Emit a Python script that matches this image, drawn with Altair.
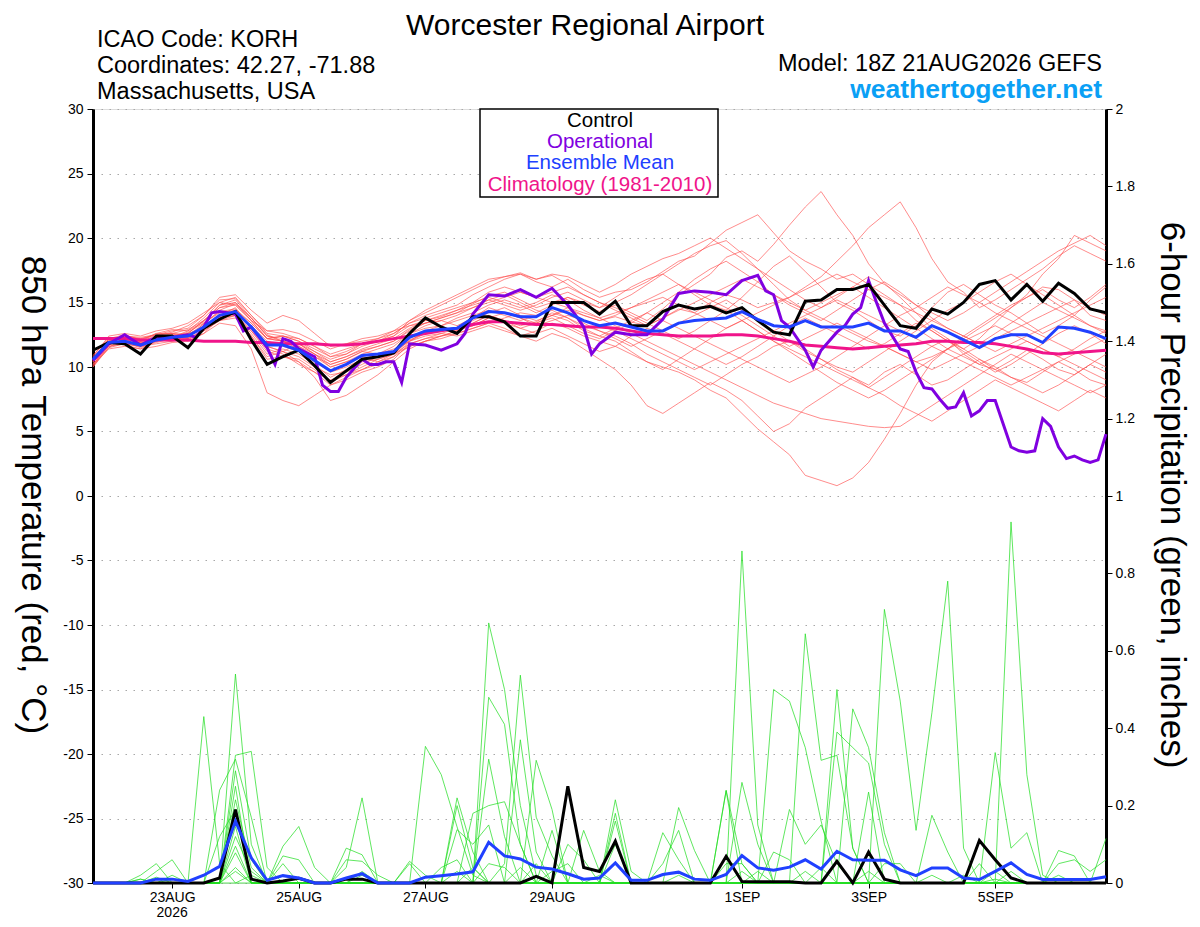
import altair as alt
import pandas as pd

FONT = "Liberation Sans"

# ---------------- data (6-hourly steps from 18Z 21AUG2026) ----------------
N_STEPS = 65

CONTROL_T = [11.3, 11.9, 11.8, 11.0, 12.4, 12.4, 11.5, 13.0, 13.7, 14.3, 12.1,
             10.2, 10.8, 11.3, 10.1, 8.8, 9.7, 10.6, 10.8, 11.1, 12.6,
             13.8, 13.1, 12.6, 13.9, 13.9, 13.5, 12.4, 12.4, 15.0, 15.0, 15.0, 14.1,
             15.1, 13.2, 13.2, 14.3, 14.8, 14.5, 14.7, 14.2, 14.6, 13.6, 12.7, 12.5,
             15.1, 15.2, 16.0, 16.0, 16.4, 14.8, 13.2, 13.0, 14.5, 14.1,
             15.0, 16.4, 16.7, 15.2, 16.4, 15.1, 16.5, 15.7, 14.5, 14.2]

MEAN_T = [10.6, 11.9, 12.0, 11.7, 12.1, 12.3, 12.4, 13.1, 14.0, 14.3, 13.1,
          11.7, 11.7, 11.3, 10.5, 9.7, 10.2, 10.9, 11.0, 11.2, 12.3,
          12.8, 12.9, 13.0, 13.8, 14.3, 14.2, 13.9, 13.9, 14.6, 14.2, 13.6, 13.2,
          13.4, 13.1, 12.8, 12.8, 13.4, 13.6, 13.7, 13.8, 14.3, 13.7, 13.2, 13.1,
          13.6, 13.1, 13.1, 13.1, 13.4, 12.8, 12.8, 12.3, 13.2, 12.7,
          12.1, 11.5, 12.2, 12.5, 12.5, 11.9, 13.1, 13.0, 12.7, 12.2]

CLIMO_T = [12.2, 12.2, 12.2, 12.1, 12.1, 12.1, 12.1, 12.0, 12.0, 12.0, 11.9,
           11.9, 11.8, 11.8, 11.8, 11.7, 11.7, 11.8, 12.0, 12.2, 12.4,
           12.6, 12.8, 13.0, 13.3, 13.5, 13.5, 13.4, 13.3, 13.3, 13.2, 13.1, 13.1,
           13.0, 12.8, 12.6, 12.5, 12.4, 12.4, 12.4, 12.5, 12.5, 12.4, 12.2, 12.0,
           11.7, 11.6, 11.5, 11.4, 11.5, 11.6, 11.7, 11.8, 12.0, 12.0,
           11.9, 11.9, 11.8, 11.6, 11.4, 11.1, 11.0, 11.1, 11.2, 11.3]

# operational run (some 3-hourly points, step unit = 6 h)
OPER_STEP = [0, 1, 2, 3, 4, 5, 6, 6.5, 7, 7.5, 8, 9, 9.5, 10, 11, 11.5, 12, 12.5, 13, 14,
             14.5, 15, 15.5, 16, 17, 17.5, 18, 18.5, 19, 19.5, 20, 21, 22, 23, 23.5, 24,
             25, 26, 27, 28, 29, 30, 30.5, 31, 31.5, 32, 33, 34, 35, 36, 37, 38, 39, 40,
             41, 42, 42.5, 43, 43.5, 44, 45, 45.5, 46, 47, 47.5, 48, 48.5, 49, 49.5, 50,
             51, 51.5, 52, 52.5, 53, 53.5, 54, 54.5, 55, 55.5, 56, 56.5, 57, 58, 58.5, 59,
             59.5, 60, 60.5, 61, 61.5, 62, 62.5, 63, 63.5, 64]
OPER_T = [10.5, 11.8, 12.5, 11.7, 12.3, 12.3, 12.5, 12.3, 13.1, 14.2, 14.3, 14.1, 12.8, 13.1, 11.5, 10.2, 12.2, 12.0, 11.4, 10.8,
          8.6, 8.1, 8.1, 9.2, 10.6, 10.2, 10.2, 10.4, 10.4, 8.8, 11.8, 11.7, 11.3, 11.8, 12.6, 14.1,
          15.6, 15.5, 16.0, 15.4, 16.1, 14.8, 14.0, 13.1, 11.0, 11.8, 12.7, 12.5, 12.5, 13.7, 15.7, 15.9, 15.8, 15.6,
          16.7, 17.1, 15.9, 15.6, 13.6, 13.1, 11.3, 10.0, 11.3, 12.7, 13.2, 14.1, 14.6, 16.7, 15.0, 13.4,
          11.4, 11.2, 9.6, 8.4, 8.3, 7.5, 6.8, 6.9, 8.0, 6.2, 6.6, 7.4, 7.4, 3.8, 3.5, 3.4,
          3.5, 6.0, 5.4, 3.8, 2.9, 3.1, 2.8, 2.6, 2.8, 4.8]

# ensemble members, 850 hPa temperature
T_P01 = [10.1, 11.5, 12.3, 12.0, 12.6, 12.9, 12.8, 13.5, 14.8, 15.2, 13.8,
         12.5, 12.0, 11.6, 11.0, 10.4, 10.8, 11.3, 11.6, 12.0, 12.9,
         13.4, 13.8, 14.2, 14.9, 15.5, 15.8, 15.2, 14.6, 15.0, 15.4, 14.8, 14.3,
         14.8, 14.2, 13.6, 14.5, 15.6, 16.4, 17.2, 18.5, 19.0, 18.2, 19.5, 21.0,
         22.4, 23.6, 21.8, 20.2, 18.0, 16.5, 15.4, 14.2, 13.0, 12.2,
         11.0, 10.2, 9.8, 10.5, 11.3, 10.6, 9.8, 9.4, 10.2, 9.6]
T_P02 = [10.4, 11.9, 11.7, 11.4, 12.0, 12.2, 12.6, 13.0, 13.8, 14.0, 12.6,
         11.0, 11.4, 11.0, 10.2, 9.2, 9.8, 10.4, 10.6, 11.0, 12.1,
         12.6, 13.0, 12.8, 13.4, 14.0, 13.6, 13.2, 13.5, 14.2, 13.8, 13.0, 12.4,
         12.0, 11.2, 10.4, 10.0, 9.6, 9.0, 8.2, 7.6, 6.4, 5.2, 4.2, 3.2,
         1.6, 1.2, 0.8, 1.4, 2.6, 4.4, 6.4, 8.6, 10.4, 11.4,
         12.4, 13.2, 14.0, 14.8, 15.4, 16.2, 16.0, 15.2, 14.0, 13.6]
T_P03 = [10.6, 12.2, 12.1, 11.9, 12.1, 12.5, 12.2, 13.4, 14.3, 14.5, 13.4,
         12.2, 12.4, 12.0, 11.2, 10.6, 11.0, 11.8, 12.0, 12.4, 13.2,
         13.6, 13.9, 14.4, 14.8, 15.2, 15.6, 15.0, 14.4, 14.0, 14.6, 14.0, 13.6,
         13.9, 13.5, 13.2, 13.8, 14.5, 14.2, 15.0, 15.6, 15.2, 14.6, 15.0, 15.4,
         16.2, 17.0, 18.2, 19.4, 20.8, 21.8, 22.8, 20.8, 18.4, 16.6,
         15.8, 14.6, 15.2, 16.0, 16.8, 17.6, 18.6, 19.4, 18.8, 18.2]
T_P04 = [10.8, 12.0, 12.4, 12.2, 12.4, 12.2, 12.6, 13.6, 14.6, 14.8, 13.6,
         12.8, 12.6, 12.2, 11.6, 11.0, 11.4, 11.8, 12.2, 12.6, 13.4,
         14.0, 14.4, 14.8, 15.6, 16.2, 16.8, 17.2, 16.6, 16.2, 16.8, 16.0, 15.4,
         15.8, 16.0, 16.6, 17.4, 18.2, 18.6, 19.6, 20.6, 21.2, 21.8, 20.4, 19.0,
         18.2, 17.6, 16.8, 17.2, 16.4, 15.6, 14.8, 13.6, 12.8, 12.0,
         11.4, 12.2, 13.4, 14.6, 15.6, 17.2, 18.4, 20.2, 19.6, 19.0]
T_P05 = [10.2, 11.6, 11.8, 11.6, 11.8, 12.0, 12.2, 12.8, 13.6, 13.8, 12.4,
         10.6, 10.8, 10.4, 9.6, 8.6, 9.0, 9.6, 10.0, 10.6, 11.8,
         12.2, 12.4, 12.6, 13.0, 13.4, 13.0, 12.4, 12.0, 12.6, 12.2, 11.4, 10.6,
         9.8, 8.6, 7.0, 6.4, 7.2, 8.0, 8.8, 8.2, 7.4, 6.2, 5.0, 5.6,
         6.8, 7.6, 8.4, 9.2, 8.6, 9.6, 10.2, 9.4, 8.6, 9.0,
         9.8, 10.6, 10.0, 9.2, 8.8, 9.6, 10.4, 9.8, 9.0, 8.6]
T_P06 = [10.0, 11.7, 12.2, 12.0, 12.3, 12.6, 12.4, 13.0, 14.0, 14.6, 13.0,
         11.6, 11.2, 10.8, 10.0, 9.4, 9.6, 10.2, 10.8, 11.2, 12.0,
         12.8, 13.2, 13.8, 14.2, 14.8, 15.2, 14.8, 14.2, 14.8, 15.4, 15.0, 14.6,
         15.4, 16.2, 16.8, 17.2, 16.4, 15.6, 14.8, 14.4, 15.4, 16.6, 17.8, 18.6,
         17.4, 16.2, 15.0, 14.4, 13.6, 12.8, 12.4, 13.2, 14.6, 15.8,
         16.4, 15.6, 14.8, 14.2, 13.4, 12.6, 13.2, 14.0, 15.2, 16.2]
T_P07 = [10.4, 12.0, 11.9, 11.5, 12.0, 12.3, 12.8, 13.8, 15.0, 15.4, 14.0,
         12.8, 12.9, 12.6, 12.0, 11.4, 11.8, 12.2, 12.4, 12.8, 13.6,
         14.2, 14.8, 15.4, 16.0, 16.6, 17.0, 17.3, 16.8, 17.1, 16.4, 15.6, 15.0,
         14.6, 14.0, 13.4, 12.8, 12.2, 12.8, 13.6, 14.4, 13.6, 12.8, 12.0, 11.4,
         10.8, 10.2, 9.6, 9.0, 8.4, 9.2, 10.0, 10.8, 11.6, 12.2,
         11.4, 10.6, 9.8, 9.2, 8.6, 8.0, 8.6, 9.4, 10.2, 11.0]
T_P08 = [10.7, 12.1, 12.4, 12.3, 12.5, 12.8, 13.0, 14.0, 15.4, 15.6, 14.4,
         13.4, 14.0, 13.6, 12.6, 11.6, 11.8, 12.0, 12.2, 12.8, 13.2,
         13.4, 13.6, 13.2, 13.8, 14.6, 14.2, 13.8, 13.4, 13.8, 13.2, 12.6, 12.2,
         12.8, 13.4, 14.2, 15.0, 15.8, 16.8, 17.6, 18.2, 17.4, 16.6, 15.6, 14.8,
         14.2, 13.6, 14.4, 15.2, 16.0, 16.6, 15.8, 14.8, 13.8, 13.0,
         12.4, 11.8, 12.6, 13.4, 14.2, 15.0, 14.4, 13.8, 13.2, 12.8]
T_P09 = [10.2, 11.4, 11.6, 11.4, 11.6, 11.9, 12.0, 12.6, 13.4, 13.2, 11.4,
         8.0, 7.4, 7.0, 7.8, 8.6, 9.2, 9.8, 10.4, 11.0, 11.6,
         12.0, 12.4, 12.8, 13.4, 14.0, 13.6, 13.0, 12.6, 13.0, 12.4, 11.8, 11.2,
         11.6, 12.4, 13.0, 12.6, 12.0, 11.4, 10.8, 10.2, 10.8, 11.6, 12.4, 13.2,
         13.8, 13.2, 12.6, 12.0, 11.4, 11.8, 12.6, 13.4, 12.8, 12.0,
         11.2, 10.4, 9.6, 10.2, 11.0, 11.8, 12.6, 13.2, 12.6, 11.8]
T_P10 = [10.5, 11.8, 12.0, 11.8, 12.2, 12.4, 12.2, 12.9, 13.8, 14.2, 13.0,
         11.6, 11.2, 10.4, 9.2, 7.4, 7.8, 8.6, 9.4, 10.4, 11.4,
         12.0, 12.2, 12.6, 13.0, 13.4, 13.8, 14.2, 14.0, 14.4, 13.8, 13.2, 12.8,
         12.4, 11.8, 11.0, 10.4, 9.8, 9.2, 8.6, 9.4, 10.2, 10.8, 11.6, 12.0,
         11.4, 10.6, 9.8, 9.2, 8.4, 7.8, 7.0, 6.4, 5.8, 6.6,
         7.4, 8.2, 9.0, 8.4, 7.8, 7.2, 6.6, 7.4, 8.2, 7.6]
T_P11 = [10.3, 12.2, 12.5, 12.1, 12.6, 12.6, 12.5, 13.3, 14.4, 14.9, 13.8,
         12.4, 12.0, 11.4, 10.8, 10.2, 10.6, 11.2, 11.0, 11.6, 12.6,
         13.2, 13.6, 14.0, 14.6, 15.2, 14.8, 14.4, 14.8, 15.4, 15.8, 15.2, 14.6,
         15.0, 15.6, 16.4, 17.2, 18.0, 18.8, 19.4, 19.8, 18.8, 17.6, 16.4, 15.2,
         14.4, 13.8, 13.2, 12.6, 12.0, 11.6, 11.0, 10.4, 10.8, 11.4,
         12.2, 13.0, 13.8, 14.6, 15.4, 16.0, 15.2, 14.6, 15.4, 16.4]
T_P12 = [10.6, 11.6, 11.9, 11.7, 12.1, 12.0, 12.3, 13.1, 13.9, 14.2, 13.2,
         12.0, 11.6, 11.2, 10.4, 9.6, 10.0, 10.6, 11.0, 11.4, 12.0,
         12.4, 12.6, 12.4, 12.8, 13.2, 12.8, 12.4, 12.8, 13.4, 13.0, 12.4, 12.0,
         11.6, 11.0, 10.4, 9.8, 10.6, 11.4, 12.2, 13.0, 13.6, 12.8, 12.0, 11.2,
         10.4, 9.6, 8.8, 8.2, 7.6, 8.2, 9.0, 9.8, 10.6, 11.4,
         12.0, 12.6, 13.2, 12.6, 12.0, 11.4, 10.8, 11.4, 12.2, 12.8]
T_P13 = [10.9, 12.3, 12.2, 12.0, 12.4, 12.7, 13.2, 14.0, 15.2, 15.3, 14.0,
         12.6, 12.4, 12.0, 11.4, 10.8, 11.0, 11.6, 12.0, 12.4, 13.6,
         14.4, 15.0, 15.6, 16.2, 16.8, 17.0, 17.2, 16.8, 17.2, 17.0, 16.4, 15.8,
         16.4, 17.2, 17.8, 18.4, 18.8, 19.4, 20.0, 19.2, 18.4, 17.6, 16.8, 16.0,
         15.2, 14.6, 15.4, 16.2, 17.0, 16.4, 15.6, 14.8, 14.2, 13.6,
         14.2, 15.0, 15.8, 16.6, 17.4, 18.2, 19.0, 19.6, 20.2, 19.4]
T_P14 = [10.1, 11.9, 12.0, 11.8, 12.0, 12.4, 12.0, 12.6, 13.8, 14.0, 12.4,
         10.8, 11.2, 11.8, 11.0, 10.0, 10.4, 11.0, 11.4, 11.8, 12.6,
         13.0, 13.2, 13.6, 14.0, 14.4, 14.0, 13.6, 14.0, 14.6, 14.2, 13.4, 12.8,
         12.2, 11.6, 12.2, 12.8, 13.4, 14.0, 14.6, 15.2, 14.4, 13.6, 12.8, 12.0,
         11.2, 10.6, 10.0, 9.6, 10.4, 11.2, 12.0, 12.8, 13.6, 14.4,
         15.0, 15.8, 16.6, 17.2, 16.4, 15.6, 14.8, 14.0, 13.2, 12.6]
T_P15 = [10.4, 11.7, 12.1, 12.0, 12.2, 12.3, 12.7, 13.4, 14.2, 14.4, 13.4,
         12.2, 12.0, 11.6, 10.8, 10.0, 10.4, 10.8, 10.4, 10.8, 12.0,
         12.6, 12.8, 13.0, 13.6, 14.2, 14.6, 14.0, 13.6, 14.0, 13.6, 12.8, 12.4,
         13.0, 13.6, 14.2, 13.6, 13.0, 12.4, 11.8, 11.2, 10.6, 10.0, 9.4, 8.8,
         9.4, 10.0, 10.8, 11.6, 12.4, 13.2, 14.0, 14.6, 15.4, 16.2,
         15.6, 15.0, 14.2, 13.6, 13.0, 12.4, 11.8, 11.2, 10.6, 10.0]
T_P16 = [10.0, 11.5, 11.8, 11.6, 11.9, 12.2, 12.3, 13.2, 14.0, 14.1, 12.8,
         11.2, 10.8, 10.6, 9.8, 8.8, 9.4, 10.0, 10.6, 11.0, 11.8,
         12.2, 12.6, 13.0, 13.2, 13.8, 13.4, 13.0, 13.4, 14.0, 14.4, 14.0, 13.6,
         14.0, 14.6, 15.2, 15.8, 16.4, 15.8, 15.2, 14.6, 14.0, 13.2, 12.4, 11.6,
         12.2, 12.8, 13.4, 12.8, 12.2, 11.6, 11.0, 10.4, 9.8, 10.4,
         11.0, 11.6, 12.2, 12.8, 13.4, 14.0, 14.6, 15.2, 14.6, 14.0]
T_P17 = [10.6, 12.0, 12.3, 12.2, 12.5, 12.6, 12.9, 13.6, 14.6, 15.0, 13.6,
         12.2, 12.4, 12.2, 11.6, 10.8, 11.2, 11.8, 12.0, 12.6, 13.4,
         13.8, 14.2, 14.6, 15.0, 15.4, 15.0, 14.6, 15.0, 15.6, 15.2, 14.4, 13.8,
         13.2, 12.6, 12.0, 11.4, 10.8, 10.2, 9.6, 9.0, 8.4, 7.8, 7.2, 6.8,
         6.4, 6.0, 5.8, 5.6, 5.4, 5.3, 5.4, 6.2, 7.0, 7.8,
         8.6, 9.4, 10.2, 11.0, 10.4, 9.8, 9.2, 8.6, 8.0, 8.6]
T_P18 = [10.8, 12.4, 12.6, 12.4, 12.8, 13.0, 13.4, 14.2, 15.0, 14.8, 13.6,
         12.2, 12.0, 11.8, 11.2, 10.4, 10.8, 11.4, 11.8, 12.2, 13.0,
         13.6, 14.0, 14.4, 15.0, 15.8, 16.2, 15.8, 15.4, 15.8, 16.2, 15.6, 15.0,
         14.4, 13.8, 13.2, 13.8, 14.4, 15.0, 15.6, 16.2, 16.8, 16.2, 15.6, 15.0,
         14.4, 15.0, 15.6, 16.2, 15.4, 14.6, 13.8, 13.0, 12.2, 11.4,
         10.8, 10.2, 10.8, 11.4, 12.0, 11.4, 10.8, 10.2, 9.6, 9.0]
T_P19 = [10.2, 11.8, 11.9, 11.9, 12.1, 12.3, 12.1, 12.8, 13.6, 14.0, 12.8,
         11.4, 11.0, 10.2, 9.6, 9.0, 9.4, 9.8, 10.2, 10.8, 11.6,
         12.0, 12.4, 12.8, 13.2, 13.8, 14.2, 13.8, 13.2, 13.6, 14.0, 13.6, 13.2,
         12.8, 12.2, 11.6, 11.0, 10.4, 9.8, 10.4, 11.0, 11.6, 12.2, 12.8, 13.4,
         14.0, 14.6, 15.2, 14.6, 14.0, 13.4, 12.8, 12.2, 11.6, 11.0,
         10.4, 9.8, 9.2, 8.6, 9.2, 9.8, 10.4, 11.0, 11.6, 12.2]
T_P20 = [10.5, 12.0, 12.2, 11.8, 12.3, 12.5, 12.6, 13.6, 14.8, 15.0, 13.8,
         12.4, 12.2, 11.8, 11.0, 10.2, 10.6, 11.2, 11.6, 12.0, 12.8,
         13.4, 13.8, 14.2, 14.6, 15.0, 15.4, 15.8, 15.4, 15.0, 14.6, 14.2, 13.8,
         14.2, 14.6, 15.0, 15.4, 14.8, 14.2, 13.6, 13.0, 13.6, 14.2, 14.8, 15.4,
         16.0, 16.6, 17.2, 16.6, 16.0, 15.4, 14.8, 14.2, 13.6, 13.0,
         12.4, 11.8, 11.2, 11.8, 12.4, 13.0, 13.6, 14.2, 14.8, 15.4]

TEMP_MEMBERS = [T_P01, T_P02, T_P03, T_P04, T_P05, T_P06, T_P07, T_P08, T_P09, T_P10,
                T_P11, T_P12, T_P13, T_P14, T_P15, T_P16, T_P17, T_P18, T_P19, T_P20]

# 6-hour precipitation (inches)
CONTROL_P = [0, 0, 0, 0, 0, 0, 0, 0, 0.013, 0.19, 0.01,
             0, 0.005, 0.012, 0, 0, 0.01, 0.01, 0, 0, 0,
             0, 0, 0, 0, 0, 0, 0, 0.017, 0, 0.25, 0.04, 0.03,
             0.108, 0, 0, 0, 0, 0, 0, 0.069, 0.004, 0.003, 0.003, 0.003,
             0, 0, 0.056, 0, 0.08, 0.01, 0, 0, 0, 0,
             0, 0.11, 0.06, 0.013, 0, 0, 0, 0, 0, 0]
MEAN_P = [0, 0, 0, 0, 0.01, 0.01, 0.004, 0.02, 0.043, 0.16, 0.065,
          0.007, 0.019, 0.013, 0, 0, 0.013, 0.024, 0, 0, 0,
          0.015, 0.019, 0.023, 0.029, 0.105, 0.07, 0.062, 0.041, 0.036, 0.024, 0.01, 0.013,
          0.052, 0.007, 0.007, 0.022, 0.028, 0.01, 0.007, 0.022, 0.071, 0.039, 0.033, 0.041,
          0.06, 0.036, 0.082, 0.06, 0.059, 0.059, 0.034, 0.019, 0.039, 0.039,
          0.013, 0.009, 0.03, 0.052, 0.022, 0.009, 0.009, 0.009, 0.009, 0.016]

# members: non-zero 6-hour amounts keyed by step, zero elsewhere
P_P01 = {3: 0.02, 4: 0.05, 9: 0.54, 10: 0.1, 25: 0.672, 26: 0.5, 27: 0.2, 28: 0.02, 41: 0.858, 42: 0.15, 57: 0.03}
P_P02 = {7: 0.43, 8: 0.05, 21: 0.353, 22: 0.28, 23: 0.145, 24: 0.02, 45: 0.644, 46: 0.317, 47: 0.33, 48: 0.09}
P_P03 = {9: 0.33, 10: 0.34, 11: 0.04, 25: 0.48, 26: 0.41, 27: 0.1, 50: 0.707, 51: 0.47, 52: 0.136, 53: 0.44, 54: 0.78, 55: 0.09}
P_P04 = {8: 0.24, 9: 0.32, 10: 0.17, 26: 0.05, 27: 0.537, 28: 0.17, 29: 0.07, 58: 0.933, 59: 0.28, 60: 0.02}
P_P05 = {9: 0.29, 10: 0.06, 16: 0.04, 17: 0.22, 27: 0.37, 28: 0.08, 43: 0.5, 44: 0.47, 45: 0.35, 46: 0.16}
P_P06 = {4: 0.03, 5: 0.06, 9: 0.25, 12: 0.095, 13: 0.146, 14: 0.04, 25: 0.32, 26: 0.12, 47: 0.5, 48: 0.09, 57: 0.337, 58: 0.09, 59: 0.13}
P_P07 = {9: 0.215, 10: 0.04, 28: 0.317, 29: 0.19, 40: 0.24, 41: 0.05, 48: 0.45, 49: 0.35, 50: 0.13}
P_P08 = {8: 0.12, 9: 0.19, 16: 0.09, 17: 0.073, 23: 0.22, 24: 0.08, 33: 0.215, 34: 0.03, 47: 0.39, 48: 0.35, 49: 0.31, 50: 0.1}
P_P09 = {9: 0.146, 12: 0.07, 13: 0.06, 24: 0.18, 25: 0.2, 26: 0.21, 27: 0.1, 41: 0.26, 42: 0.1, 44: 0.19, 45: 0.1, 46: 0.15, 47: 0.05, 64: 0.115}
P_P10 = {3: 0.01, 9: 0.12, 10: 0.03, 20: 0.056, 21: 0.02, 23: 0.2, 24: 0.04, 33: 0.18, 37: 0.195, 38: 0.084, 49: 0.235, 53: 0.175, 54: 0.08, 61: 0.084, 62: 0.07}
P_P11 = {9: 0.095, 16: 0.06, 17: 0.056, 18: 0.02, 23: 0.138, 24: 0.1, 25: 0.15, 29: 0.136, 33: 0.16, 36: 0.13, 37: 0.06, 40: 0.238, 43: 0.08, 44: 0.06, 61: 0.05, 62: 0.06, 63: 0.03, 64: 0.06}
P_P12 = {5: 0.02, 9: 0.078, 12: 0.05, 17: 0.03, 20: 0.05, 22: 0.04, 23: 0.06, 31: 0.136, 32: 0.03, 36: 0.05, 37: 0.136, 40: 0.05, 41: 0.05, 56: 0.05}
P_P13 = {4: 0.015, 9: 0.04, 24: 0.04, 28: 0.05, 30: 0.1, 31: 0.06, 33: 0.1, 42: 0.03, 50: 0.05, 51: 0.05, 55: 0.02}
P_P14 = {3: 0.01, 9: 0.03, 17: 0.02, 25: 0.05, 26: 0.04, 29: 0.03, 30: 0.05, 41: 0.03, 45: 0.03, 53: 0.02, 57: 0.01}
P_P15 = {5: 0.01, 10: 0.02, 23: 0.03, 27: 0.04, 32: 0.02, 37: 0.02, 46: 0.04, 49: 0.03, 58: 0.03, 61: 0.02}

PRECIP_MEMBERS = [P_P01, P_P02, P_P03, P_P04, P_P05, P_P06, P_P07, P_P08, P_P09, P_P10,
                  P_P11, P_P12, P_P13, P_P14, P_P15]

X_TICK_DAYS = [(8, 23), (8, 25), (8, 27), (8, 29), (9, 1), (9, 3), (9, 5)]
T_TICKS = [-30, -25, -20, -15, -10, -5, 0, 5, 10, 15, 20, 25, 30]
P_TICKS = [0, 0.2, 0.4, 0.6, 0.8, 1, 1.2, 1.4, 1.6, 1.8, 2]

# ---------------- tables ----------------
T0 = pd.Timestamp("2026-08-21 18:00")


def stamp(step):
    return (T0 + pd.Timedelta(hours=6 * step)).strftime("%Y-%m-%dT%H:%M:%SZ")


def series(values, steps=None):
    steps = steps if steps is not None else list(range(len(values)))
    return pd.DataFrame({"t": [stamp(s) for s in steps], "v": values})


red_rows = []
for k, mem in enumerate(TEMP_MEMBERS):
    for s, v in enumerate(mem):
        red_rows.append({"t": stamp(s), "v": v, "m": f"p{k + 1:02d}"})
red_df = pd.DataFrame(red_rows)

green_rows = []
for k, mem in enumerate(PRECIP_MEMBERS):
    for s in range(N_STEPS):
        green_rows.append({"t": stamp(s), "p": mem.get(s, 0.0), "m": f"p{k + 1:02d}"})
green_df = pd.DataFrame(green_rows)

ctrl_t = series(CONTROL_T)
mean_t = series(MEAN_T)
clim_t = series(CLIMO_T)
oper_t = series(OPER_T, OPER_STEP)
ctrl_p = series(CONTROL_P).rename(columns={"v": "p"})
mean_p = series(MEAN_P).rename(columns={"v": "p"})

# ---------------- encodings ----------------
W, H = 1013, 774

x_scale = alt.Scale(type="utc", nice=False,
                    domain=[alt.DateTime(year=2026, month=8, date=21, hours=18, utc=True),
                            alt.DateTime(year=2026, month=9, date=6, hours=18, utc=True)])
x_axis = alt.Axis(values=[alt.DateTime(year=2026, month=m, date=d, utc=True) for m, d in X_TICK_DAYS],
                  labelExpr="utcdate(datum.value) + upper(utcFormat(datum.value, '%b'))",
                  title=None, domain=False, grid=False, ticks=True, tickColor="black",
                  tickSize=5, tickWidth=1, labelFont=FONT, labelFontSize=14,
                  labelColor="black", labelPadding=2, labelFlush=False)
X = alt.X("t:T", scale=x_scale, axis=x_axis)

t_axis = alt.Axis(orient="left", values=T_TICKS, labelExpr="'' + datum.value", title=None,
                  grid=True, gridColor="#a8a8a8", gridDash=[1.5, 6.5], gridWidth=1.2,
                  domainColor="black", domainWidth=3, tickColor="black", tickSize=6,
                  tickWidth=1, labelFont=FONT, labelFontSize=14, labelColor="black",
                  labelPadding=4)
YT = alt.Y("v:Q", scale=alt.Scale(domain=[-30, 30], nice=False, zero=False), axis=t_axis)

p_axis = alt.Axis(orient="right", values=P_TICKS, labelExpr="format(datum.value, '~g')",
                  title=None, grid=False, domainColor="black", domainWidth=3,
                  tickColor="black", tickSize=6, tickWidth=1, labelFont=FONT,
                  labelFontSize=14, labelColor="black", labelPadding=3)
YP = alt.Y("p:Q", scale=alt.Scale(domain=[0, 2], nice=False, zero=False), axis=p_axis)

RED, GREEN = "#ff4a4a", "#22dd22"
PURPLE, BLUE, PINK = "#8000e0", "#2040ff", "#f0148a"

red = alt.Chart(red_df).mark_line(color=RED, strokeWidth=0.8, opacity=0.8).encode(
    x=X, y=YT, detail="m:N")
clim = alt.Chart(clim_t).mark_line(color=PINK, strokeWidth=3).encode(x=X, y=YT)
oper = alt.Chart(oper_t).mark_line(color=PURPLE, strokeWidth=3).encode(x=X, y=YT)
ctrl = alt.Chart(ctrl_t).mark_line(color="black", strokeWidth=3).encode(x=X, y=YT)
mean = alt.Chart(mean_t).mark_line(color=BLUE, strokeWidth=3).encode(x=X, y=YT)
temp_layer = alt.layer(red, clim, oper, ctrl, mean)

green = alt.Chart(green_df).mark_line(color=GREEN, strokeWidth=0.8, opacity=0.9).encode(
    x=X, y=YP, detail="m:N")
ctrl_pl = alt.Chart(ctrl_p).mark_line(color="black", strokeWidth=3).encode(x=X, y=YP)
mean_pl = alt.Chart(mean_p).mark_line(color=BLUE, strokeWidth=3).encode(x=X, y=YP)
precip_layer = alt.layer(green, ctrl_pl, mean_pl)

one = pd.DataFrame({"s": [""]})


def label(text, x, y, size, color="black", align="left", weight="normal", angle=0):
    return alt.Chart(pd.DataFrame({"s": [text]})).mark_text(
        font=FONT, fontSize=size, color=color, align=align, baseline="middle",
        fontWeight=weight, angle=angle).encode(text="s:N", x=alt.value(x), y=alt.value(y))


legend_box = alt.Chart(one).mark_rect(fill="white", stroke="black", strokeWidth=1.5).encode(
    x=alt.value(387), x2=alt.value(625), y=alt.value(0), y2=alt.value(88))

year_lbl = alt.Chart(pd.DataFrame({"t": [stamp(5)], "s": ["2026"]})).mark_text(
    font=FONT, fontSize=14, color="black", baseline="middle").encode(
    x=alt.X("t:T", scale=x_scale, axis=x_axis), y=alt.value(H + 30), text="s:N")

texts = [
    label("Worcester Regional Airport", 492, -83, 30, align="center"),
    label("ICAO Code: KORH", 4, -69, 23.5),
    label("Coordinates: 42.27, -71.88", 4, -43, 23.5),
    label("Massachusetts, USA", 4, -17, 23.5),
    label("Model: 18Z 21AUG2026 GEFS", 1009, -45, 23.5, align="right"),
    label("weathertogether.net", 1009, -19, 26.5, color="#0aa0f5", align="right", weight="bold"),
    label("Control", 507, 12, 20.5, align="center"),
    label("Operational", 507, 33, 20.5, color=PURPLE, align="center"),
    label("Ensemble Mean", 507, 54, 20.5, color=BLUE, align="center"),
    label("Climatology (1981-2010)", 507, 76, 20.5, color=PINK, align="center"),
    label("850 hPa Temperature (red, °C)", -60, 386, 35, align="center", angle=90),
    label("6-hour Precipitation (green, inches)", 1079, 386, 35, align="center", angle=90),
]

chart = alt.layer(temp_layer, precip_layer, legend_box, year_lbl, *texts).resolve_scale(
    y="independent"
).properties(
    width=W, height=H,
    padding={"left": 85, "top": 101, "right": 86, "bottom": 38},
    autosize=alt.AutoSizeParams(type="none"),
).configure_view(stroke="black", strokeWidth=3).configure(background="white")

chart.save("out.html", embed_options={"renderer": "svg", "actions": False})
